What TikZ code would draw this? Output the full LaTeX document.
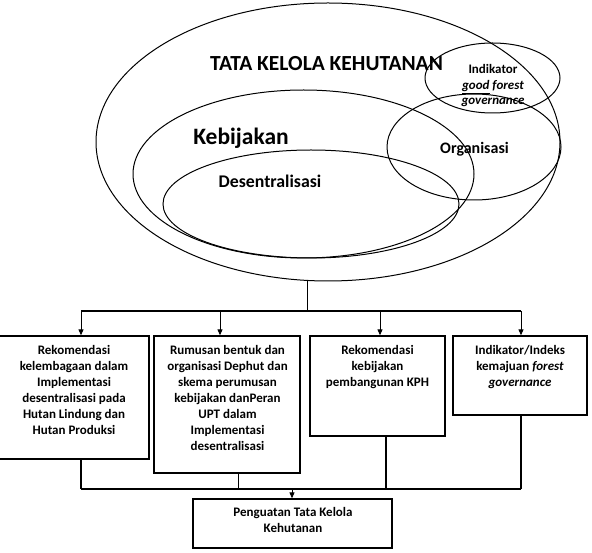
\documentclass[tikz,border=0pt]{standalone}
\usepackage{fontspec}
\setmainfont{Carlito}
\usetikzlibrary{shapes.geometric,arrows.meta}
\begin{document}
\begin{tikzpicture}[x=1pt,y=-1pt,
  ell/.style={draw, ellipse, inner sep=0pt, line width=1pt},
  box/.style={draw, rectangle, inner sep=0pt, line width=1.3pt},
  boxtext/.style={anchor=north, align=center, inner sep=0pt, font=\fontsize{13}{16}\selectfont\bfseries},
  lbl/.style={inner sep=0pt, anchor=base},
  arr/.style={-{Triangle[width=5pt,length=6pt]}, line width=1pt},
  bus/.style={line width=1.8pt},
  bustwo/.style={line width=2.2pt},
  leg/.style={line width=1.8pt},
  thinleg/.style={line width=1pt}
]
\useasboundingbox (0,0) rectangle (592,553);

% ellipses
\node[ell, minimum width=464pt, minimum height=278pt] (outer) at (328,142) {};
\node[ell, minimum width=341pt, minimum height=168pt] (kebij) at (303.5,174) {};
\node[ell, minimum width=296pt, minimum height=108pt] (desen) at (311,204) {};
\node[ell, minimum width=174pt, minimum height=106pt] (organ) at (474,147) {};
\node[ell, minimum width=135pt, minimum height=70pt] (indik) at (492.5,78) {};

% ellipse labels
\node[lbl, font=\fontsize{21.5}{25}\selectfont\bfseries] (tTata) at (326.5,70.5) {TATA KELOLA KEHUTANAN};
\node[lbl, font=\fontsize{23.5}{27}\selectfont\bfseries] (tKeb) at (241,144.5) {Kebijakan};
\node[lbl, font=\fontsize{17.8}{21}\selectfont\bfseries] (tDes) at (270,188) {Desentralisasi};
\node[lbl, font=\fontsize{16}{19}\selectfont\bfseries] (tOrg) at (474.5,154) {Organisasi};
\node[anchor=north, align=center, inner sep=0pt, font=\fontsize{13}{15.5}\selectfont\bfseries] (tInd) at (493,64.5) {Indikator\\\underline{\textit{good}} \textit{forest}\\\textit{governance}};

% boxes
\node[box, minimum width=151pt, minimum height=123pt] (b1) at (73.5,397.5) {};
\node[box, minimum width=146pt, minimum height=137pt] (b2) at (227,404.5) {};
\node[box, minimum width=135pt, minimum height=100pt] (b3) at (377.5,386) {};
\node[box, minimum width=134pt, minimum height=79pt] (b4) at (520,375.5) {};
\node[box, minimum width=199pt, minimum height=49pt] (b5) at (292.5,523.5) {};

\node[boxtext] (b1t) at (74,345) {Rekomendasi\\kelembagaan dalam\\Implementasi\\desentralisasi pada\\Hutan Lindung dan\\Hutan Produksi};
\node[boxtext] (b2t) at (227.5,345) {Rumusan bentuk dan\\organisasi Dephut dan\\skema perumusan\\kebijakan danPeran\\UPT dalam\\Implementasi\\desentralisasi};
\node[boxtext] (b3t) at (377.5,345) {Rekomendasi\\kebijakan\\pembangunan KPH};
\node[boxtext] (b4t) at (520,345) {Indikator/Indeks\\kemajuan \textit{forest}\\\textit{governance}};
\node[boxtext] (b5t) at (293,507.5) {Penguatan Tata Kelola\\Kehutanan};

% top distribution
\coordinate (busT) at (307,311);
\coordinate (busL) at (81,311);
\coordinate (busR) at (521,311);
\coordinate (a2) at (220,311);
\coordinate (a3) at (380,311);
\draw[thinleg] (outer.south -| busT) -- (busT);
\draw[bus] (busL) -- (busR);
\draw[arr] (busL) -- (busL |- b1.north);
\draw[arr] (a2) -- (a2 |- b2.north);
\draw[arr] (a3) -- (a3 |- b3.north);
\draw[arr] (busR) -- (busR |- b4.north);

% bottom collection
\coordinate (cL) at (81,489);
\coordinate (cR) at (521,489);
\coordinate (c2) at (238,489);
\coordinate (c3) at (386,489);
\coordinate (c5) at (292,489);
\draw[leg] (b1.south -| cL) -- (cL);
\draw[thinleg] (b2.south -| c2) -- (c2);
\draw[leg] (b3.south -| c3) -- (c3);
\draw[leg] (b4.south -| cR) -- (cR);
\draw[bustwo] (cL) -- (cR);
\draw[arr] (c5) -- (c5 |- b5.north);
\end{tikzpicture}
\end{document}
